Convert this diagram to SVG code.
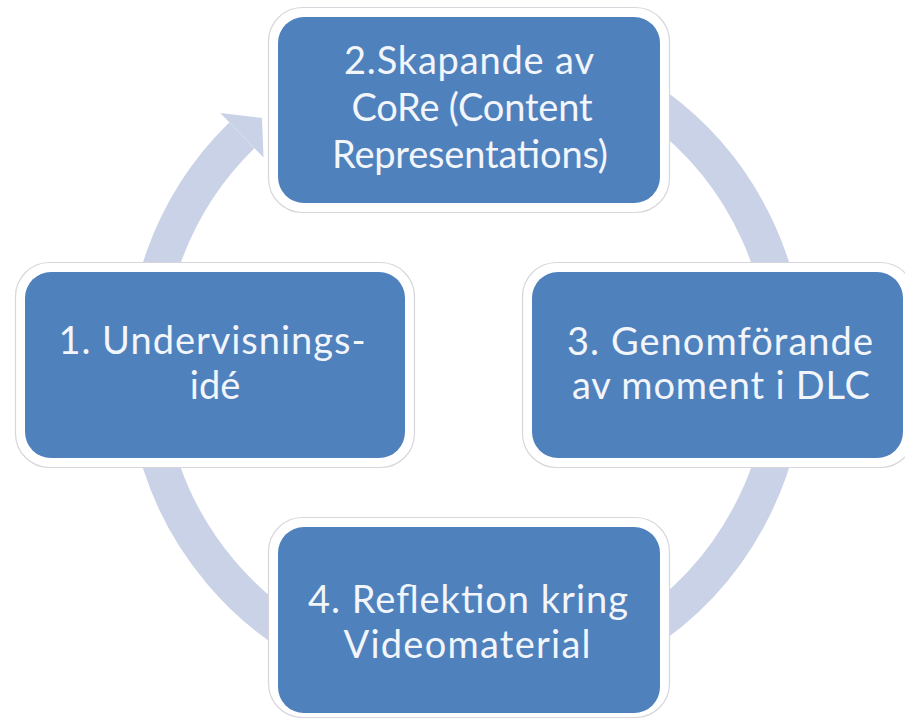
<svg xmlns="http://www.w3.org/2000/svg" width="905" height="718" viewBox="0 0 905 718">
  <style>
    .frame { fill: #ffffff; stroke: #d6d6dc; stroke-width: 1.2; }
    .box { fill: #4f81bd; }
    .label { font-family: Lato, "Open Sans", "Liberation Sans", sans-serif; font-size: 38px; fill: #f2f5fa; text-anchor: middle; }
    .ring { fill: none; stroke: #c9d2e6; stroke-width: 36; }
    .head { fill: #c9d2e6; }
  </style>
  <rect width="905" height="718" fill="#ffffff"/>
  <g id="connectors">
    <path class="ring" d="M 356.2 63.4 A 321 321 0 1 1 241.8 135.3"/>
    <polygon class="head" points="220.2,113.1 262,118 263.5,157.4"/>
  </g>
  <g id="node-2">
    <rect class="frame" x="268.5" y="7.5" width="401" height="205" rx="34"/>
    <rect class="box" x="278" y="17" width="382" height="186" rx="26"/>
    <text class="label" x="469" y="74" textLength="250">2.Skapande av</text>
    <text class="label" x="472" y="121" textLength="241">CoRe (Content</text>
    <text class="label" x="470" y="168" textLength="276">Representations)</text>
  </g>
  <g id="node-1">
    <rect class="frame" x="15.5" y="262.5" width="399" height="205" rx="34"/>
    <rect class="box" x="25" y="272" width="380" height="186" rx="26"/>
    <text class="label" x="212" y="354" textLength="307">1. Undervisnings-</text>
    <text class="label" x="215" y="399">idé</text>
  </g>
  <g id="node-3">
    <rect class="frame" x="522.5" y="262.5" width="392" height="205" rx="34"/>
    <rect class="box" x="532" y="272" width="371" height="186" rx="26"/>
    <text class="label" x="720" y="355" textLength="306">3. Genomförande</text>
    <text class="label" x="721" y="399" textLength="298">av moment i DLC</text>
  </g>
  <g id="node-4">
    <rect class="frame" x="268.5" y="517.5" width="401" height="200" rx="34"/>
    <rect class="box" x="278" y="527" width="382" height="186" rx="26"/>
    <text class="label" x="468" y="613" textLength="320">4. Reflektion kring</text>
    <text class="label" x="467" y="658" textLength="247">Videomaterial</text>
  </g>
</svg>
